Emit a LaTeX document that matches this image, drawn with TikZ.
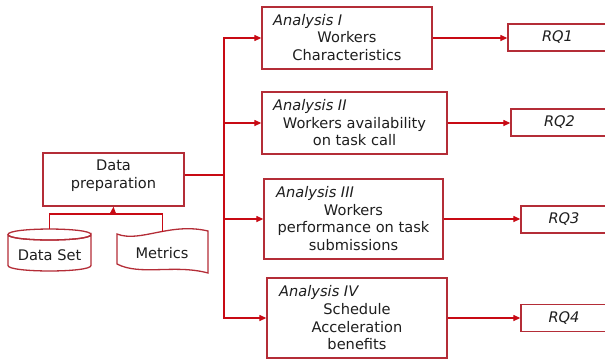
\documentclass[tikz,border=0pt]{standalone}
\usepackage{fontspec}
\setmainfont{DejaVu Sans}
\usetikzlibrary{arrows.meta}
\definecolor{boxred}{RGB}{180,45,55}
\definecolor{linered}{RGB}{200,10,20}
\definecolor{txt}{RGB}{30,30,30}
\begin{document}
\begin{tikzpicture}[x=1pt,y=-1pt,
 box/.style={draw=boxred,line width=1.3pt,inner sep=0pt,fill=white},
 lbl/.style={text=txt,font=\fontsize{14.6}{17.5}\selectfont,inner sep=0pt,align=center},
 hdr/.style={text=txt,font=\fontsize{14.6}{17}\selectfont\itshape,inner sep=0pt,anchor=west},
 rq/.style={box,minimum height=27,font=\fontsize{14.6}{17}\selectfont\itshape,text=txt},
 conn/.style={draw=linered,line width=1.2pt},
 arr/.style={conn,-{Triangle[length=7pt,width=6pt]}}]
\useasboundingbox (0,0) rectangle (605,360);
\clip (0,0) rectangle (605,360);

% Data preparation
\node[box,minimum width=141,minimum height=53] (dp) at (113.5,179.5) {};
\node[lbl] (dpt) at (113.5,175.5) {Data\\preparation};

% Data Set cylinder
\node[inner sep=0pt,minimum width=83,minimum height=42] (ds) at (49.5,250) {};
\draw[box] (8,234.5) -- (8,265.5) .. controls (8,272.8) and (91,272.8) .. (91,265.5) -- (91,234.5)
  .. controls (91,241.8) and (8,241.8) .. (8,234.5) .. controls (8,227.2) and (91,227.2) .. (91,234.5);
\draw[draw=boxred,line width=1.3pt] (8,234.5) .. controls (8,241.8) and (91,241.8) .. (91,234.5);
\node[lbl] (dst) at (49.5,255) {Data Set};

% Metrics tape
\node[inner sep=0pt,minimum width=91,minimum height=40] (mt) at (162.5,252) {};
\draw[box] (117,234) .. controls (140,243) and (170,222) .. (208,231) -- (208,273)
  .. controls (175,264) and (140,276) .. (117,264) -- cycle;
\node[lbl] (mtt) at (162,253) {Metrics};

% Analysis boxes
\node[box,minimum width=170,minimum height=62] (a1) at (347,38) {};
\node[box,minimum width=185,minimum height=62] (a2) at (354.5,123) {};
\node[box,minimum width=179,minimum height=80] (a3) at (353.5,219) {};
\node[box,minimum width=180,minimum height=80] (a4) at (357,318) {};

\node[hdr] (a1h) at (273,21) {Analysis I};
\node[lbl] (a1t) at (347,46) {Workers\\Characteristics};
\node[hdr] (a2h) at (273,106) {Analysis II};
\node[lbl] (a2t) at (354.5,131.5) {Workers availability\\on task call};
\node[hdr] (a3h) at (276,193) {Analysis III};
\node[lbl] (a3t) at (353.5,227.5) {Workers\\performance on task\\submissions};
\node[hdr] (a4h) at (279,292) {Analysis IV};
\node[lbl] (a4t) at (357,326.7) {Schedule\\Acceleration\\benefits};

% RQ boxes
\node[rq,minimum width=99] (rq1) at (557.5,37.5) {RQ1};
\node[rq,minimum width=97] (rq2) at (559.5,122.5) {RQ2};
\node[rq,minimum width=86] (rq3) at (564,219.5) {RQ3};
\node[rq,minimum width=86] (rq4) at (564,318) {RQ4};

% connectors
\coordinate (j) at (113,214);
\coordinate (tk) at (224,175);
\draw[conn] (ds.north) |- (j) -| (mt.north);
\draw[arr] (j) -- (dp.south);
\draw[conn] (dp.east |- tk) -- (tk);
\draw[arr] (tk) |- (a1.west);
\draw[arr] (tk) |- (a2.west);
\draw[arr] (tk) |- (a3.west);
\draw[arr] (tk) |- (a4.west);
\draw[arr] (a1.east) -- (a1.east -| rq1.west);
\draw[arr] (a2.east) -- (a2.east -| rq2.west);
\draw[arr] (a3.east) -- (a3.east -| rq3.west);
\draw[arr] (a4.east) -- (a4.east -| rq4.west);
\end{tikzpicture}
\end{document}
